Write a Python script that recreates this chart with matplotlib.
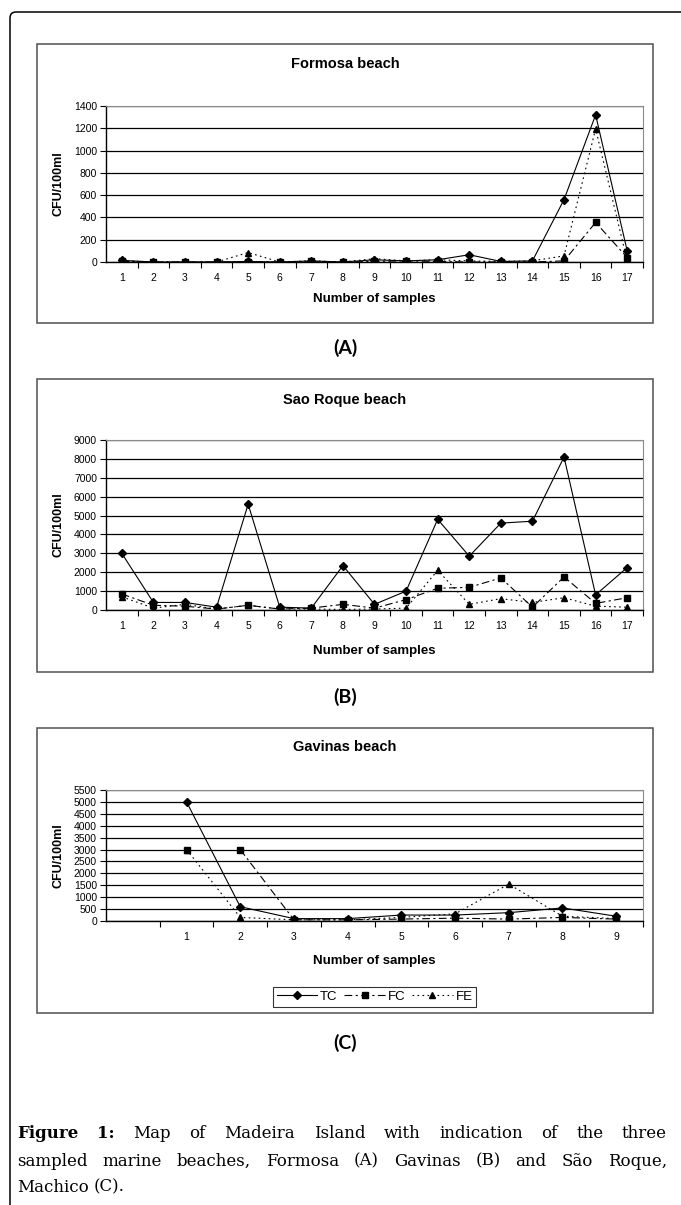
import numpy as np
import matplotlib
matplotlib.use("Agg")
import matplotlib.pyplot as plt
import matplotlib.transforms as mtransforms
from matplotlib.patches import FancyBboxPatch, Rectangle

W, H = 681, 1205

# (A) Formosa beach
formosa_x = list(range(1, 18))
formosa_labels = [str(i) for i in formosa_x]
formosa_tc = [15, 0, 0, 0, 5, 0, 10, 0, 20, 10, 20, 65, 5, 10, 560, 1320, 100]
formosa_fc = [5, 0, 0, 0, 0, 0, 5, 0, 5, 10, 5, 0, 0, 0, 10, 355, 40]
formosa_fe = [10, 0, 0, 0, 85, 0, 10, 0, 30, 10, 20, 10, 5, 10, 55, 1195, 10]

# (B) Sao Roque beach
roque_x = list(range(1, 18))
roque_labels = [str(i) for i in roque_x]
roque_tc = [3000, 400, 400, 150, 5600, 150, 100, 2350, 300, 1000, 4800, 2850, 4600, 4700, 8100, 800, 2250]
roque_fc = [850, 250, 200, 50, 250, 50, 100, 300, 100, 550, 1150, 1200, 1700, 150, 1750, 350, 650]
roque_fe = [700, 100, 300, 50, 250, 50, 50, 30, 50, 100, 2100, 300, 600, 400, 650, 200, 150]

# (C) Gavinas beach (first category slot left empty, as in the original sheet)
gavinas_x = list(range(1, 10))
gavinas_labels = [str(i) for i in gavinas_x]
gavinas_tc = [5000, 600, 100, 100, 250, 250, 350, 550, 200]
gavinas_fc = [np.nan, 3000, 50, 50, 80, 120, 80, 150, 80]
gavinas_fe = [3000, 150, 50, 50, 150, 300, 1550, 200, 100]

plt.rcParams['font.family'] = ['Liberation Sans', 'DejaVu Sans']


def fx(x):
    return x / W


def fy(y):
    return 1 - y / H


def fbox(l, t, r, b):
    return [l / W, 1 - b / H, (r - l) / W, (b - t) / H]


fig = plt.figure(figsize=(W / 100, H / 100), dpi=100)

# outer page frame, rounded top-left corner
frame = FancyBboxPatch((10, -50), 900, H - 12 + 50,
                       boxstyle="round,pad=0,rounding_size=6",
                       transform=mtransforms.IdentityTransform(),
                       fill=False, ec='black', lw=1.1)
fig.patches.append(frame)


def panel(box, plot, title, title_y, xlab_y, x, labels, ncat, tc, fc, fe, ymax, ystep):
    l, t, r, b = box
    fig.patches.append(Rectangle((fx(l), fy(b)), (r - l) / W, (b - t) / H,
                                 transform=fig.transFigure, fill=False,
                                 ec='#505050', lw=1.1))
    ax = fig.add_axes(fbox(*plot))
    ax.set_axisbelow(True)
    ax.yaxis.grid(True, color='black', lw=0.9)

    ax.plot(x, tc, color='black', lw=0.8, marker='D', ms=4.2, label='TC')
    ax.plot(x, fc, color='black', lw=0.8, ls=(0, (7, 3, 2, 3)), marker='s', ms=4.8, label='FC')
    ax.plot(x, fe, color='black', lw=0.8, ls=(0, (1.5, 3)), marker='^', ms=4.8, label='FE')

    lo, hi = x[-1] - ncat + 0.5, x[-1] + 0.5
    ax.set_xlim(lo, hi)
    ax.set_ylim(0, ymax)
    ax.set_xticks(x)
    ax.set_xticklabels(labels, fontsize=7.5)
    ax.set_xticks(np.arange(lo + 1, hi + 0.01), minor=True)
    ax.tick_params(axis='x', which='major', length=0, pad=8)
    ax.tick_params(axis='x', which='minor', length=4, width=0.8, direction='out')
    ax.set_yticks(np.arange(0, ymax + 1, ystep))
    ax.tick_params(axis='y', length=4, width=0.8, direction='out', labelsize=7.5, pad=2.5)
    for s in ['left', 'bottom']:
        ax.spines[s].set_color('black')
        ax.spines[s].set_linewidth(1.0)
    for s in ['top', 'right']:
        ax.spines[s].set_color('#8a8a8a')
        ax.spines[s].set_linewidth(0.8)

    fig.text(fx((l + r) / 2), fy(title_y), title, fontsize=10.5, weight='bold',
             ha='center', va='center')
    pl, pt, pr, pb = plot
    fig.text(fx((pl + pr) / 2), fy(xlab_y), 'Number of samples', fontsize=9.5,
             weight='bold', ha='center', va='center')
    fig.text(fx(58), fy((pt + pb) / 2), 'CFU/100ml', fontsize=9, weight='bold',
             rotation=90, ha='center', va='center')
    return ax


panel((37, 44, 653, 323), (106, 106, 643, 262), 'Formosa beach', 64, 299,
      formosa_x, formosa_labels, 17, formosa_tc, formosa_fc, formosa_fe, 1400, 200)
panel((37, 379, 653, 672), (106, 440, 643, 610), 'Sao Roque beach', 400, 651,
      roque_x, roque_labels, 17, roque_tc, roque_fc, roque_fe, 9000, 1000)
axc = panel((37, 728, 653, 1013), (106, 790, 643, 921), 'Gavinas beach', 747, 961,
            gavinas_x, gavinas_labels, 10, gavinas_tc, gavinas_fc, gavinas_fe, 5500, 500)
# first FE point of Gavinas is drawn with a square marker in the original
axc.plot(gavinas_x[:1], gavinas_fe[:1], ls='none', marker='s', ms=4.8, color='black')

leg = axc.legend(loc='center', bbox_to_anchor=(fx(374.5), fy(997)),
                 bbox_transform=fig.transFigure, ncol=3, fontsize=9.5,
                 frameon=True, fancybox=False, edgecolor='black',
                 handlelength=3.1, handletextpad=0.2, columnspacing=0.5,
                 borderpad=0.3, borderaxespad=0)
leg.get_frame().set_linewidth(0.8)

for lab, y in [('(A)', 348), ('(B)', 697), ('(C)', 1043)]:
    fig.text(fx(345), fy(y), lab, fontsize=14, weight='bold', family='Lato',
             ha='center', va='center')

# caption, justified like the source page
renderer = fig.canvas.get_renderer()


def caption_line(words, y, left, right, justify=True):
    texts = []
    for w, bold in words:
        texts.append(fig.text(0, fy(y), w, fontsize=12, family='DejaVu Serif',
                              weight='bold' if bold else 'normal', va='center'))
    widths = [t.get_window_extent(renderer).width for t in texts]
    if justify and len(texts) > 1:
        gap = (right - left - sum(widths)) / (len(texts) - 1)
    else:
        gap = fig.text(0, 0, ' ', fontsize=12, family='DejaVu Serif').get_window_extent(renderer).width
    xx = left
    for t, w in zip(texts, widths):
        t.set_x(fx(xx))
        xx += w + gap


line1 = [('Figure', True), ('1:', True)] + [(w, False) for w in
         'Map of Madeira Island with indication of the three'.split()]
line2 = [(w, False) for w in
         'sampled marine beaches, Formosa (A) Gavinas (B) and São Roque,'.split()]
line3 = [(w, False) for w in 'Machico (C).'.split()]
caption_line(line1, 1133, 17, 667)
caption_line(line2, 1161, 17, 667)
caption_line(line3, 1187, 17, 667, justify=False)

fig.savefig('out.png', dpi=100)
